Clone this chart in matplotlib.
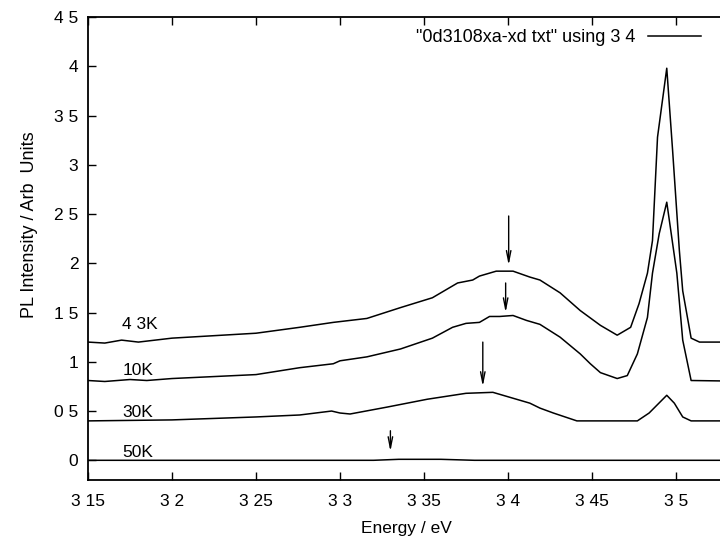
import numpy as np
import matplotlib.pyplot as plt

plt.rcParams['font.family'] = ['Liberation Sans', 'DejaVu Sans']

# PL spectra (energy in eV, intensity in arb. units)
e_43k = [3.15, 3.16, 3.17, 3.18, 3.20, 3.25, 3.276, 3.296, 3.316, 3.336, 3.355,
         3.37, 3.379, 3.383, 3.393, 3.403, 3.413, 3.419, 3.431, 3.443, 3.455,
         3.465, 3.473, 3.478, 3.483, 3.486, 3.489, 3.4945, 3.498, 3.502, 3.504,
         3.509, 3.514, 3.55]
i_43k = [1.20, 1.19, 1.22, 1.20, 1.24, 1.29, 1.35, 1.40, 1.44, 1.55, 1.65,
         1.80, 1.83, 1.87, 1.92, 1.92, 1.86, 1.83, 1.70, 1.52, 1.37,
         1.27, 1.35, 1.59, 1.90, 2.23, 3.28, 3.98, 3.14, 2.13, 1.72,
         1.24, 1.20, 1.20]

e_10k = [3.15, 3.16, 3.175, 3.185, 3.20, 3.25, 3.276, 3.296, 3.30, 3.316, 3.336,
         3.355, 3.367, 3.375, 3.383, 3.389, 3.395, 3.403, 3.411, 3.419, 3.431,
         3.443, 3.449, 3.455, 3.465, 3.471, 3.477, 3.483, 3.486, 3.490, 3.4945,
         3.4975, 3.5005, 3.504, 3.509, 3.55]
i_10k = [0.81, 0.80, 0.82, 0.81, 0.83, 0.87, 0.94, 0.98, 1.01, 1.05, 1.13,
         1.24, 1.35, 1.39, 1.40, 1.46, 1.46, 1.47, 1.42, 1.38, 1.25,
         1.08, 0.98, 0.89, 0.83, 0.86, 1.08, 1.45, 1.90, 2.30, 2.62,
         2.26, 1.90, 1.22, 0.81, 0.80]

e_30k = [3.15, 3.20, 3.25, 3.276, 3.295, 3.30, 3.306, 3.328, 3.352, 3.375,
         3.391, 3.403, 3.413, 3.419, 3.427, 3.441, 3.477, 3.484, 3.4945,
         3.499, 3.504, 3.509, 3.55]
i_30k = [0.40, 0.41, 0.44, 0.46, 0.50, 0.48, 0.47, 0.54, 0.62, 0.68,
         0.69, 0.63, 0.58, 0.53, 0.48, 0.40, 0.40, 0.48, 0.66,
         0.58, 0.44, 0.40, 0.40]

e_50k = [3.15, 3.25, 3.32, 3.335, 3.36, 3.38, 3.45, 3.55]
i_50k = [0.00, 0.00, 0.00, 0.01, 0.01, 0.00, 0.00, 0.00]

# arrows marking the broad band maximum: (energy, head, tail)
arrow_e = [3.4004, 3.3986, 3.385, 3.33]
arrow_tip = [1.98, 1.50, 0.75, 0.09]
arrow_top = [2.48, 1.80, 1.20, 0.30]

label_text = ['4 3K', '10K', '30K', '50K']
label_y = [1.33, 0.87, 0.44, 0.03]

xticks = [3.15, 3.20, 3.25, 3.30, 3.35, 3.40, 3.45, 3.50]
xticklabels = ['3 15', '3 2', '3 25', '3 3', '3 35', '3 4', '3 45', '3 5']
yticks = [0, 0.5, 1, 1.5, 2, 2.5, 3, 3.5, 4, 4.5]
yticklabels = ['0', '0 5', '1', '1 5', '2', '2 5', '3', '3 5', '4', '4 5']

fig = plt.figure(figsize=(7.2, 5.4), dpi=100)
ax = fig.add_axes([88 / 720, 60 / 540, 672 / 720, 463 / 540])

lw = 1.1
ax.plot(e_43k, i_43k, color='black', lw=lw, label='"0d3108xa-xd txt" using 3 4')
ax.plot(e_10k, i_10k, color='black', lw=lw)
ax.plot(e_30k, i_30k, color='black', lw=lw)
ax.plot(e_50k, i_50k, color='black', lw=lw)

for x, tip, top in zip(arrow_e, arrow_tip, arrow_top):
    ax.annotate('', xy=(x, tip), xytext=(x, top),
                arrowprops=dict(arrowstyle='->,head_length=0.8,head_width=0.16',
                                color='black', lw=1.0, shrinkA=0, shrinkB=0))

for txt, y in zip(label_text, label_y):
    ax.text(3.1705, y, txt, fontsize=12.5, ha='left', va='baseline')

ax.set_xlim(3.15, 3.55)
ax.set_ylim(-0.2, 4.5)
ax.set_xticks(xticks)
ax.set_xticklabels(xticklabels)
ax.set_yticks(yticks)
ax.set_yticklabels(yticklabels)
ax.tick_params(direction='in', length=6, width=1.0, top=True, right=True,
               labelsize=12.5)
ax.tick_params(axis='x', pad=10)
ax.tick_params(axis='y', pad=7)
for s in ax.spines.values():
    s.set_linewidth(1.3)

ax.set_xlabel('Energy / eV', fontsize=12.5)
ax.xaxis.set_label_coords((406 - 88) / 672, -0.088)
ax.set_ylabel('PL Intensity / Arb  Units', fontsize=13)
ax.yaxis.set_label_coords(-0.074, 0.551)

ax.legend(loc='upper right', bbox_to_anchor=(708 / 720, 1 - 22 / 540),
          bbox_transform=fig.transFigure, frameon=False, markerfirst=False,
          fontsize=13, handlelength=2.9, handletextpad=0.7, borderaxespad=0)

plt.savefig('out.png', dpi=100)
